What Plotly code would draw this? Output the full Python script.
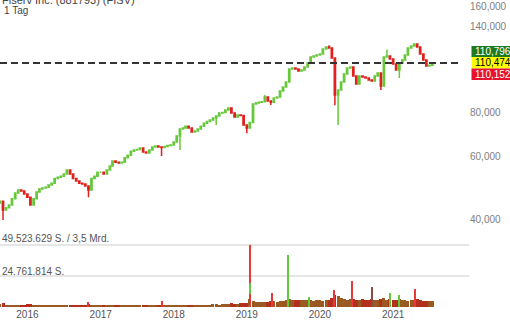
import plotly.graph_objects as go

# ---------------- data ----------------
title_text = "Fiserv Inc. (881793) (FISV)"
period_text = "1 Tag"

# semi-monthly sample dates (1st and 16th of each month)
dates = ["2015-08-16"]
for yr in range(2015, 2022):
    for mo in range(1, 13):
        if (yr == 2015 and mo < 9) or (yr == 2021 and mo > 7):
            continue
        dates.append(f"{yr}-{mo:02d}-01")
        dates.append(f"{yr}-{mo:02d}-16")

first_open = 44500
closes = [
    # 2015
    45000, 42500, 43100, 43900, 45700, 47500, 48400, 48100, 47200,
    # 2016
    46200, 43900, 45700, 47800, 48700, 49000, 49300, 50000, 50600, 52200, 52600, 52900,
    53700, 55100, 53700, 52200, 51300, 50600, 50300, 49700, 48400, 52200, 52900, 54300,
    # 2017
    54300, 53700, 55100, 56600, 58400, 58000, 57700, 58000, 59700, 60700, 62300, 62800,
    63000, 63600, 62000, 61600, 62800, 64000, 64400, 64000, 63800, 64200, 64600, 64800,
    # 2018
    66100, 68700, 71900, 72400, 73300, 72400, 70600, 71000, 71900, 73300, 74700, 75600,
    76300, 77300, 78300, 79800, 80100, 81400, 82500, 79800, 77800, 78800, 78500, 73800,
    # 2019
    72400, 75100, 84600, 85200, 85600, 85900, 88600, 86300, 85600, 88000, 88600, 92100,
    94500, 97700, 106300, 106900, 106300, 104900, 105600, 107600, 110500, 114900, 115600, 116400,
    # 2020
    117100, 121000, 122600, 121800, 114100, 89700, 92700, 97700, 102900, 106900, 107600, 101500,
    96400, 101500, 100900, 100200, 98900, 98300, 101500, 103500, 95100, 114900, 115600, 113400,
    # 2021
    109800, 105600, 110500, 112700, 116400, 121800, 123400, 125000, 122600, 117100, 112700, 108300,
    108900, 110474,
]
low_wicks = {
    "2015-09-01": 39800, "2016-11-01": 46200, "2017-11-01": 60400, "2018-02-01": 62800,
    "2018-08-01": 73800, "2019-01-01": 70000, "2019-05-01": 84100, "2020-03-16": 84000,
    "2020-04-01": 73800, "2020-11-01": 92700, "2021-02-01": 100200,
}
high_wicks = {"2019-04-01": 89700, "2020-02-16": 124000, "2020-12-01": 120600}

# volume (shares), semi-monthly baseline
volumes_m = [
    2.2, 2.8, 2.0, 1.8, 2.0, 1.8, 1.6, 1.8, 2.0,
    2.4, 2.2, 2.0, 1.8, 1.6, 1.7, 1.5, 1.8, 1.6, 1.5, 1.6, 1.7, 1.5, 1.8, 1.6, 1.4, 1.5, 1.6, 1.7, 2.0, 2.2, 1.8, 1.6, 1.7,
    1.6, 1.5, 1.8, 1.6, 1.5, 1.4, 1.5, 1.6, 1.7, 1.5, 1.4, 1.5, 1.4, 1.5, 1.6, 1.4, 1.3, 1.4, 1.5, 1.6, 2.0, 1.5, 1.4, 1.5,
    1.6, 1.5, 2.0, 1.7, 1.6, 1.5, 1.6, 1.7, 1.8, 1.7, 1.8, 2.0, 1.9, 2.1, 2.2, 2.0, 2.1, 2.3, 2.4, 2.8, 2.6, 2.5, 2.8, 3.2,
    3.5, 6.5, 4.5, 4.0, 4.2, 3.8, 4.0, 3.9, 4.6, 4.4, 4.2, 4.5, 4.8, 5.5, 6.0, 5.5, 5.2, 5.6, 5.4, 5.8, 5.6, 5.2, 5.0, 5.4,
    5.2, 5.0, 5.6, 5.4, 7.0, 9.5, 8.5, 7.0, 6.2, 5.8, 6.0, 6.5, 5.8, 5.6, 6.0, 5.4, 5.8, 6.2, 5.6, 5.8, 6.5, 6.8, 5.8, 6.0,
    5.2, 5.8, 6.0, 5.4, 5.2, 5.0, 5.4, 5.6, 6.0, 5.2, 5.0, 4.8, 5.0, 4.8,
]
spike_dates = ["2016-10-28", "2017-11-01", "2019-01-16", "2019-01-17", "2019-01-18", "2019-05-06",
               "2019-07-24", "2019-07-26", "2019-11-06", "2020-03-12", "2020-06-10", "2020-09-18",
               "2020-12-18", "2021-01-28", "2021-04-22"]
spike_volumes = [4.2e6, 5.0e6, 49523629, 19.4e6, 10.0e6, 11.4e6,
                 11.0e6, 41.5e6, 8.0e6, 13.6e6, 20.4e6, 16.0e6,
                 11.4e6, 9.6e6, 14.1e6]
spike_colors = ["r", "r", "r", "g", "r", "r", "g", "g", "g", "r", "r", "b", "g", "g", "r"]

volume_grid = [24761814, 49523629]
volume_grid_labels = ["24.761.814 S.", "49.523.629 S. / 3,5 Mrd."]

price_ticks = [40000, 60000, 80000, 140000, 160000]
year_ticks = ["2016-01-01", "2017-01-01", "2018-01-01", "2019-01-01", "2020-01-01", "2021-01-01"]
year_labels = ["2016", "2017", "2018", "2019", "2020", "2021"]

last_price = 110474
quote_high = "110,796"
quote_last = "110,474"
quote_low = "110,152"

# ---------------- build ----------------
GREEN = "#66c83a"
RED = "#e0201c"
W, H = 510, 320

opens = [first_open] + closes[:-1]
highs, lows = [], []
for d, o, c in zip(dates, opens, closes):
    highs.append(high_wicks.get(d, max(o, c)))
    lows.append(low_wicks.get(d, min(o, c)))

x_range = ["2015-08-17", "2021-12-06"]

fig = go.Figure()
fig.add_trace(go.Candlestick(
    x=dates, open=opens, high=highs, low=lows, close=closes,
    increasing=dict(line=dict(color=GREEN, width=1.5), fillcolor=GREEN),
    decreasing=dict(line=dict(color=RED, width=1.5), fillcolor=RED),
    whiskerwidth=0, xaxis="x", yaxis="y", hoverinfo="skip",
))
fig.add_trace(go.Scatter(
    x=x_range, y=[last_price, last_price], mode="lines",
    line=dict(color="#333333", width=2, dash="7px,4px"), xaxis="x", yaxis="y", hoverinfo="skip",
))

vol_colors = ["#b3301c" if c < o else "#9a5a22" for o, c in zip(opens, closes)]
fig.add_trace(go.Bar(
    x=dates, y=[v * 1e6 for v in volumes_m], marker=dict(color=vol_colors, line=dict(width=0)),
    width=15 * 86400000, xaxis="x2", yaxis="y2", hoverinfo="skip",
))
cmap = {"r": "#e8393a", "g": "#63c93a", "b": "#8b4a4a"}
fig.add_trace(go.Bar(
    x=spike_dates, y=spike_volumes, marker=dict(color=[cmap[c] for c in spike_colors], line=dict(width=0)),
    width=5 * 86400000, xaxis="x2", yaxis="y2", hoverinfo="skip",
))

shapes = []
for gv in volume_grid:
    shapes.append(dict(type="line", xref="paper", yref="y2", x0=0, x1=469 / W, y0=gv, y1=gv,
                       line=dict(color="#e6e6e6", width=2), layer="below"))


def py(p):
    return 1 - p / H


# quote boxes
boxes = [(46, 57, "#1f7a1f", quote_high, "white"),
         (57, 68.5, "#ffff00", quote_last, "black"),
         (68.5, 80, "#e8112d", quote_low, "white")]
annotations = []
for top, bot, col, txt, fc in boxes:
    shapes.append(dict(type="rect", xref="paper", yref="paper", x0=471.5 / W, x1=1,
                       y0=py(bot), y1=py(top), fillcolor=col, line=dict(width=0)))
    annotations.append(dict(text=txt, xref="paper", yref="paper", x=472.5 / W, y=py((top + bot) / 2),
                            xanchor="left", yanchor="middle", showarrow=False,
                            font=dict(size=10, color=fc, family="Liberation Sans, Arial")))

annotations.append(dict(text=title_text, xref="paper", yref="paper", x=0, y=py(0), xanchor="left",
                        yanchor="middle", showarrow=False, font=dict(size=11, color="#444",
                                                                     family="Liberation Sans, Arial")))
annotations.append(dict(text=period_text, xref="paper", yref="paper", x=2 / W, y=py(10), xanchor="left",
                        yanchor="middle", showarrow=False, font=dict(size=10, color="#444",
                                                                     family="Liberation Sans, Arial")))
for lbl, ypix in zip(volume_grid_labels, [271, 238]):
    annotations.append(dict(text=lbl, xref="paper", yref="paper", x=0, y=py(ypix), xanchor="left",
                            yanchor="middle", showarrow=False, font=dict(size=10, color="#555",
                                                                         family="Liberation Sans, Arial")))

fig.update_layout(
    width=W, height=H, margin=dict(l=0, r=0, t=0, b=0),
    paper_bgcolor="white", plot_bgcolor="white", showlegend=False,
    barmode="overlay", bargap=0,
    font=dict(family="Liberation Sans, Arial", size=10, color="#555"),
    xaxis=dict(domain=[0, 461 / W], range=x_range, type="date", anchor="y", showticklabels=False,
               showgrid=False, zeroline=False, rangeslider=dict(visible=False), ticks=""),
    xaxis2=dict(domain=[0, 461 / W], range=x_range, type="date", anchor="y2", matches="x",
                tickvals=year_ticks, ticktext=year_labels, showgrid=False, zeroline=False, ticks="",
                tickfont=dict(size=10, color="#555")),
    yaxis=dict(type="log", domain=[1 - 232 / H, 1], range=[4.56636, 5.22105], side="right",
               anchor="free", position=469 / W, tickvals=price_ticks,
               ticktext=[f"{v:,}" for v in price_ticks], showgrid=False, zeroline=False, ticks="",
               tickfont=dict(size=10, color="#808080")),
    yaxis2=dict(domain=[13 / H, 80 / H], range=[0, 53.52e6], showticklabels=False, showgrid=False,
                zeroline=False, ticks=""),
    shapes=shapes, annotations=annotations,
)

fig.write_html("out.html")
